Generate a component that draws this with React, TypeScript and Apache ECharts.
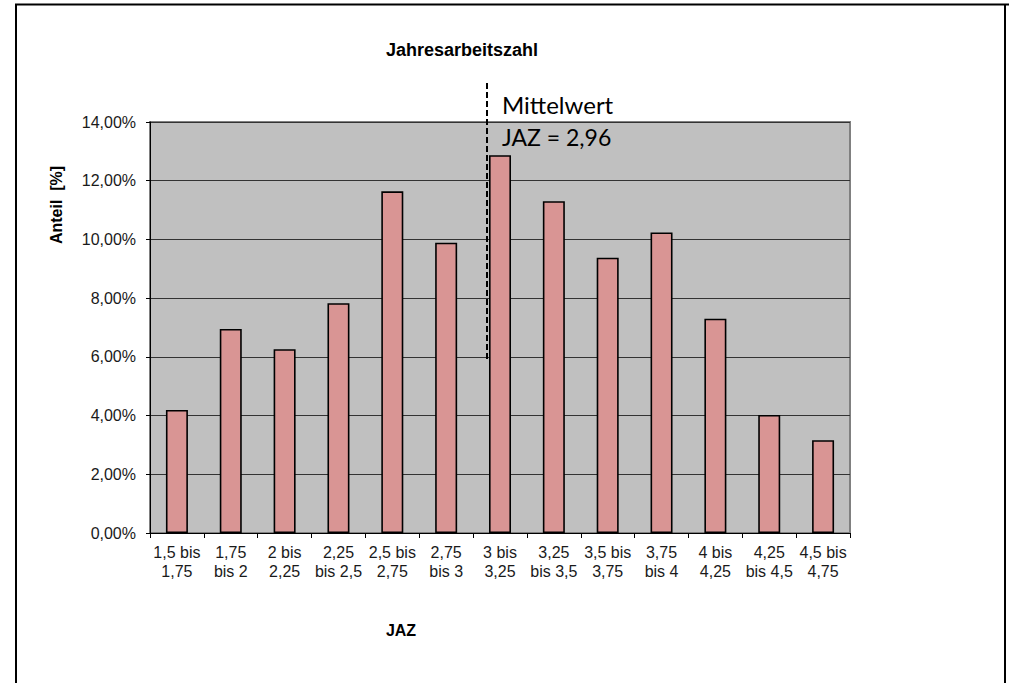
import React, { useEffect, useRef } from "react";
import * as echarts from "echarts";

// JAZ classes (Jahresarbeitszahl ranges)
const categories = [
  "1,5 bis\n1,75",
  "1,75\nbis 2",
  "2 bis\n2,25",
  "2,25\nbis 2,5",
  "2,5 bis\n2,75",
  "2,75\nbis 3",
  "3 bis\n3,25",
  "3,25\nbis 3,5",
  "3,5 bis\n3,75",
  "3,75\nbis 4",
  "4 bis\n4,25",
  "4,25\nbis 4,5",
  "4,5 bis\n4,75",
];

// Share of systems per class, in percent
const shares = [4.19, 6.95, 6.26, 7.83, 11.64, 9.89, 12.87, 11.3, 9.38, 10.24, 7.3, 4.02, 3.16];

const yMin = 0;
const yMax = 14;
const yStep = 2;

const title = "Jahresarbeitszahl";
const yName = "Anteil  [%]";
const xName = "JAZ";
const meanLines = ["Mittelwert", "JAZ = 2,96"];

const fmtPercent = (v: number) => v.toFixed(2).replace(".", ",") + "%";

export default function App() {
  const ref = useRef<HTMLDivElement>(null);

  useEffect(() => {
    if (!ref.current) return;
    const chart = echarts.init(ref.current, undefined, { renderer: "svg" });
    const font = "'Liberation Sans', Arial, sans-serif";
    const noteFont = "Lato, 'Open Sans', sans-serif";
    chart.setOption({
      animation: false,
      backgroundColor: "#ffffff",
      textStyle: { fontFamily: font },
      grid: {
        left: 150,
        top: 122,
        right: 159,
        bottom: 150,
        show: true,
        backgroundColor: "#c0c0c0",
        borderColor: "#808080",
        borderWidth: 2,
      },
      xAxis: {
        type: "category",
        data: categories,
        axisLine: { show: true, lineStyle: { color: "#000", width: 1 } },
        axisTick: { show: true, length: 5, lineStyle: { color: "#000" } },
        axisLabel: {
          color: "#1a1a1a",
          fontSize: 16,
          lineHeight: 19,
          margin: 10,
          interval: 0,
          fontFamily: font,
        },
        z: 5,
      },
      yAxis: {
        type: "value",
        min: yMin,
        max: yMax,
        interval: yStep,
        axisLine: { show: true, lineStyle: { color: "#000", width: 1 } },
        axisTick: { show: true, length: 4, lineStyle: { color: "#000" } },
        axisLabel: {
          formatter: (v: number) => fmtPercent(v),
          color: "#1a1a1a",
          fontSize: 16,
          margin: 14,
          fontFamily: font,
        },
        splitLine: { show: true, lineStyle: { color: "#333", width: 1 } },
      },
      series: [
        {
          type: "bar",
          data: shares,
          barWidth: 22,
          itemStyle: { color: "#d99594", borderColor: "#000", borderWidth: 1.6 },
        },
      ],
      graphic: [
        // page frame
        { type: "line", shape: { x1: 15, y1: 4.5, x2: 1009, y2: 4.5 }, style: { stroke: "#000", lineWidth: 2 } },
        { type: "line", shape: { x1: 16, y1: 4, x2: 16, y2: 683 }, style: { stroke: "#000", lineWidth: 2 } },
        { type: "line", shape: { x1: 1005, y1: 4, x2: 1005, y2: 683 }, style: { stroke: "#000", lineWidth: 2 } },
        // titles
        {
          type: "text",
          x: 462,
          y: 50,
          style: { text: title, fontSize: 18, fontWeight: "bold", fill: "#000", fontFamily: font, align: "center", verticalAlign: "middle" },
        },
        {
          type: "text",
          x: 401,
          y: 630,
          style: { text: xName, fontSize: 16, fontWeight: "bold", fill: "#000", fontFamily: font, align: "center", verticalAlign: "middle" },
        },
        {
          type: "text",
          x: 56,
          y: 205,
          rotation: Math.PI / 2,
          style: { text: yName, fontSize: 16, fontWeight: "bold", fill: "#000", fontFamily: font, align: "center", verticalAlign: "middle" },
        },
        // mean marker
        {
          type: "line",
          shape: { x1: 487, y1: 83, x2: 487, y2: 362 },
          style: { stroke: "#000", lineWidth: 2, lineDash: [6, 3] },
          z: 10,
        },
        {
          type: "text",
          x: 502,
          y: 104,
          style: { text: meanLines[0], fontSize: 24, fill: "#000", fontFamily: noteFont, verticalAlign: "middle" },
          z: 10,
        },
        {
          type: "text",
          x: 502,
          y: 137,
          style: { text: meanLines[1], fontSize: 23, fill: "#000", fontFamily: noteFont, verticalAlign: "middle" },
          z: 10,
        },
      ],
    });
    return () => chart.dispose();
  }, []);

  return (
    <div
      ref={ref}
      style={{ position: "fixed", left: 0, top: 0, width: 1009, height: 683 }}
    />
  );
}
